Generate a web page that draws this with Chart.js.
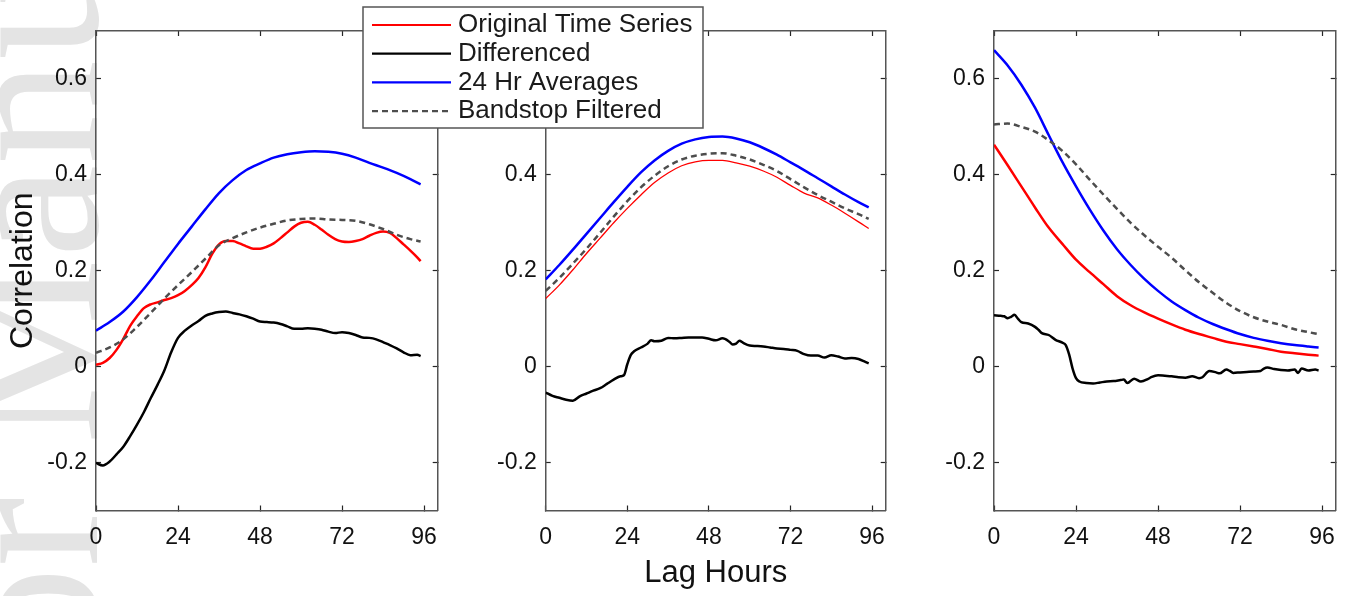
<!DOCTYPE html>
<html>
<head>
<meta charset="utf-8">
<script src="https://cdn.jsdelivr.net/npm/chart.js@4.4.1/dist/chart.umd.min.js"></script>
<style>
  html, body { margin: 0; padding: 0; background: #fff; }
  #quadro { position: relative; width: 1349px; height: 596px; overflow: hidden; }
  #quadro canvas { position: absolute; left: 0; top: 0; }
</style>
</head>
<body>
<div id="quadro">
  <canvas id="painel1" width="1349" height="596"></canvas>
  <canvas id="painel2" width="1349" height="596"></canvas>
  <canvas id="painel3" width="1349" height="596"></canvas>
</div>
<script>
// Dados (lag em horas, correlação)

const rotulos = ['Original Time Series', 'Differenced', '24 Hr Averages', 'Bandstop Filtered'];
const xTicks = [0, 24, 48, 72, 96];
const yTicks = [-0.2, 0, 0.2, 0.4, 0.6];

const lagSuave = [0, 4, 8, 12, 16, 20, 24, 28, 32, 36, 40, 44, 48, 52, 56, 60, 64, 68, 72, 76, 80, 84, 88, 92, 95];
const lag2 = [0, 2, 4, 6, 8, 10, 12, 14, 16, 18, 20, 22, 24, 26, 28, 30, 32, 34, 36, 38, 40, 42, 44, 46, 48,
              50, 52, 54, 56, 58, 60, 62, 64, 66, 68, 70, 72, 74, 76, 78, 80, 82, 84, 86, 88, 90, 92, 94, 95];

// Painel 1
const original1 = [0.004, 0.008, 0.018, 0.035, 0.058, 0.085, 0.105, 0.122, 0.13, 0.134, 0.139, 0.143, 0.149, 0.158,
                   0.17, 0.185, 0.207, 0.235, 0.255, 0.262, 0.262, 0.257, 0.251, 0.246, 0.246, 0.25, 0.257, 0.268,
                   0.28, 0.292, 0.3, 0.302, 0.296, 0.286, 0.275, 0.266, 0.261, 0.26, 0.262, 0.266, 0.273, 0.279,
                   0.282, 0.279, 0.268, 0.255, 0.242, 0.228, 0.22];
const diferenciado1 = [-0.201, -0.206, -0.198, -0.183, -0.167, -0.145, -0.121, -0.095, -0.066, -0.038, -0.008, 0.03,
                       0.06, 0.075, 0.086, 0.095, 0.106, 0.111, 0.114, 0.115, 0.112, 0.109, 0.105, 0.1, 0.094, 0.093,
                       0.092, 0.089, 0.084, 0.079, 0.079, 0.08, 0.079, 0.077, 0.073, 0.07, 0.072, 0.07, 0.066, 0.061,
                       0.06, 0.057, 0.051, 0.045, 0.038, 0.03, 0.024, 0.025, 0.022];
const media1 = [0.075, 0.093, 0.115, 0.145, 0.18, 0.218, 0.256, 0.292, 0.328, 0.362, 0.389, 0.41, 0.424, 0.436,
                0.443, 0.447, 0.449, 0.448, 0.444, 0.436, 0.425, 0.415, 0.404, 0.391, 0.38];
const filtrado1 = [0.029, 0.04, 0.057, 0.083, 0.112, 0.142, 0.17, 0.197, 0.225, 0.253, 0.268, 0.28, 0.29, 0.298,
                   0.305, 0.308, 0.309, 0.307, 0.306, 0.304, 0.297, 0.287, 0.275, 0.266, 0.261];

// Painel 2
const original2 = [0.142, 0.17, 0.202, 0.236, 0.268, 0.3, 0.33, 0.358, 0.384, 0.404, 0.419, 0.427, 0.43, 0.43,
                   0.425, 0.418, 0.408, 0.395, 0.378, 0.362, 0.352, 0.337, 0.32, 0.302, 0.288];
const lagDif2 = [0, 2, 4, 6, 8, 10, 12, 14, 16, 18, 20, 22, 23, 24, 25, 26, 28, 30, 31, 32, 34, 36, 38, 40, 42, 44,
                 46, 48, 50, 52, 54, 55, 56, 57, 58, 60, 62, 64, 66, 68, 70, 72, 74, 76, 78, 80, 82, 84, 86, 88, 90,
                 92, 94, 95];
const diferenciado2 = [-0.054, -0.061, -0.065, -0.069, -0.071, -0.062, -0.056, -0.05, -0.045, -0.036, -0.027, -0.02,
                       -0.018, 0.005, 0.024, 0.032, 0.04, 0.048, 0.055, 0.053, 0.054, 0.06, 0.059, 0.06, 0.061, 0.061,
                       0.061, 0.058, 0.055, 0.059, 0.052, 0.046, 0.048, 0.054, 0.05, 0.044, 0.043, 0.042, 0.04, 0.038,
                       0.037, 0.035, 0.033, 0.026, 0.023, 0.023, 0.019, 0.024, 0.021, 0.017, 0.018, 0.016, 0.01, 0.007];
const media2 = [0.182, 0.212, 0.244, 0.277, 0.31, 0.343, 0.375, 0.405, 0.43, 0.45, 0.465, 0.474, 0.479, 0.48,
                0.476, 0.468, 0.456, 0.442, 0.426, 0.41, 0.393, 0.376, 0.359, 0.343, 0.332];
const filtrado2 = [0.158, 0.185, 0.215, 0.246, 0.279, 0.313, 0.345, 0.374, 0.398, 0.418, 0.432, 0.44, 0.444, 0.445,
                   0.44, 0.432, 0.421, 0.408, 0.391, 0.374, 0.358, 0.344, 0.33, 0.318, 0.308];

// Painel 3
const original3 = [0.463, 0.42, 0.376, 0.332, 0.29, 0.256, 0.223, 0.197, 0.172, 0.147, 0.128, 0.113, 0.1, 0.088,
                   0.077, 0.068, 0.06, 0.052, 0.047, 0.042, 0.037, 0.031, 0.028, 0.025, 0.023];
const lagDif3 = [0, 2, 3, 4, 5, 6, 7, 8, 10, 12, 13, 14, 16, 18, 20, 21, 22, 23, 24, 25, 27, 29, 31, 33, 35, 37, 38,
                 39, 41, 43, 45, 46, 48, 50, 52, 54, 56, 58, 60, 61, 63, 65, 66, 68, 69, 70, 72, 74, 76, 78, 79, 80,
                 82, 84, 86, 88, 89, 90, 92, 94, 95];
const diferenciado3 = [0.107, 0.106, 0.105, 0.101, 0.104, 0.108, 0.1, 0.093, 0.09, 0.083, 0.077, 0.07, 0.066, 0.056,
                       0.05, 0.045, 0.025, -0.004, -0.024, -0.031, -0.034, -0.035, -0.033, -0.031, -0.03, -0.028,
                       -0.027, -0.034, -0.025, -0.031, -0.026, -0.022, -0.018, -0.019, -0.02, -0.022, -0.023, -0.02,
                       -0.024, -0.022, -0.009, -0.012, -0.014, -0.006, -0.009, -0.013, -0.012, -0.011, -0.01, -0.009,
                       -0.004, -0.002, -0.005, -0.007, -0.008, -0.006, -0.013, -0.004, -0.008, -0.006, -0.008];
const media3 = [0.66, 0.628, 0.588, 0.54, 0.483, 0.427, 0.376, 0.328, 0.284, 0.245, 0.212, 0.183, 0.158, 0.136,
                0.118, 0.102, 0.089, 0.078, 0.068, 0.06, 0.054, 0.049, 0.045, 0.042, 0.04];
const filtrado3 = [0.505, 0.507, 0.5, 0.49, 0.472, 0.45, 0.422, 0.39, 0.359, 0.329, 0.3, 0.274, 0.25, 0.227,
                   0.201, 0.176, 0.154, 0.133, 0.116, 0.103, 0.094, 0.087, 0.078, 0.072, 0.068];

Chart.defaults.font.family = '"Liberation Sans", Arial, sans-serif';
Chart.defaults.color = '#111';

function pontos(lags, valores) {
    return lags.map((x, i) => ({ x: x, y: valores[i] }));
}

function fixarTamanho(largura, altura) {
    return function(escala) {
        if (largura !== null) escala.width = largura;
        if (altura !== null) escala.height = altura;
        escala.paddingLeft = 0;
        escala.paddingRight = 0;
        escala.paddingTop = 0;
        escala.paddingBottom = 0;
    };
}

// Marca d'água ao fundo
const marcaDagua = {
    id: 'marcaDagua',
    beforeDraw(chart) {
        const ctx = chart.ctx;
        ctx.save();
        ctx.translate(97, 1092);
        ctx.rotate(-Math.PI / 2);
        ctx.font = '210px "Liberation Serif", serif';
        ctx.fillStyle = '#e4e4e4';
        ctx.textBaseline = 'alphabetic';
        ctx.fillText('Author Manuscript', 0, 0);
        ctx.restore();
    }
};

// Legenda com caixa, por cima dos painéis 1 e 2
const legendaCaixa = {
    id: 'legendaCaixa',
    afterDraw(chart) {
        const ctx = chart.ctx;
        ctx.save();
        ctx.fillStyle = '#fff';
        ctx.fillRect(363, 7, 340, 121);
        ctx.strokeStyle = '#555';
        ctx.lineWidth = 1.5;
        ctx.strokeRect(363, 7, 340, 121);
        chart.data.datasets.forEach((ds, i) => {
            const y = 25 + i * 28.7;
            ctx.beginPath();
            ctx.setLineDash(ds.borderDash || []);
            ctx.strokeStyle = ds.borderColor;
            ctx.lineWidth = 2.2;
            ctx.moveTo(372, y);
            ctx.lineTo(451, y);
            ctx.stroke();
            ctx.setLineDash([]);
            ctx.fillStyle = '#1a1a1a';
            ctx.font = '26px "Liberation Sans", Arial, sans-serif';
            ctx.textBaseline = 'middle';
            ctx.textAlign = 'left';
            ctx.fillText(ds.label, 458, y);
        });
        ctx.restore();
    }
};

function eixo(posicao, tipo, extra) {
    const ehX = tipo === 'x';
    const base = {
        type: 'linear',
        position: posicao,
        min: ehX ? 0 : -0.3,
        max: ehX ? 100 : 0.7,
        afterBuildTicks: s => { s.ticks = (ehX ? xTicks : yTicks).map(v => ({ value: v })); },
        border: { display: true, color: '#555', width: 1.5 },
        grid: { display: true, drawOnChartArea: false, drawTicks: true, tickLength: -5, tickColor: '#262626', tickWidth: 1.2 },
        ticks: { display: false }
    };
    return Object.assign(base, extra);
}

function criarPainel(id, series, esquerda, direita, comTituloY, comTituloX, plugins) {
    const largY = 92, altX = 85.5;
    const topo = 31, baixo = 510.5;
    return new Chart(document.getElementById(id), {
        type: 'line',
        data: {
            datasets: [
                { label: rotulos[0], data: pontos(series.lagOriginal, series.original), borderColor: '#ff0000',
                  borderWidth: series.larguraOriginal, order: 4 },
                { label: rotulos[1], data: pontos(series.lagDif, series.dif), borderColor: '#000000',
                  borderWidth: 2.5, order: 3 },
                { label: rotulos[2], data: pontos(lagSuave, series.media), borderColor: '#0000ff',
                  borderWidth: 2.5, order: 2 },
                { label: rotulos[3], data: pontos(lagSuave, series.filtrado), borderColor: '#4d4d4d',
                  borderWidth: 2.5, borderDash: [6, 4], order: 1 }
            ]
        },
        options: {
            responsive: false,
            animation: false,
            events: [],
            elements: {
                point: { radius: 0 },
                line: { cubicInterpolationMode: 'monotone', fill: false, borderCapStyle: 'butt', borderJoinStyle: 'round' }
            },
            layout: { padding: { left: esquerda - largY, right: 1349 - direita, top: topo, bottom: 596 - baixo - altX } },
            plugins: { legend: { display: false }, tooltip: { enabled: false } },
            scales: {
                x: eixo('bottom', 'x', {
                    afterFit: fixarTamanho(null, altX),
                    ticks: { display: true, padding: 18, font: { size: 23 }, color: '#111', callback: v => String(v) },
                    title: { display: comTituloX, text: 'Lag Hours', font: { size: 31 }, color: '#111', padding: { top: 0, bottom: 4 } }
                }),
                x2: eixo('top', 'x', { afterFit: fixarTamanho(null, 0) }),
                y: eixo('left', 'y', {
                    afterFit: fixarTamanho(largY, null),
                    ticks: { display: true, padding: 14, font: { size: 23 }, color: '#111',
                             callback: v => String(Math.round(v * 10) / 10) },
                    title: { display: comTituloY, text: 'Correlation', font: { size: 32 }, color: '#111', padding: { top: 0, bottom: 0 } }
                }),
                y2: eixo('right', 'y', { afterFit: fixarTamanho(0, null) })
            }
        },
        plugins: plugins
    });
}

criarPainel('painel1', {
    lagOriginal: lag2, original: original1, larguraOriginal: 2.5,
    lagDif: lag2, dif: diferenciado1, media: media1, filtrado: filtrado1
}, 96, 437.7, true, false, [marcaDagua]);

criarPainel('painel2', {
    lagOriginal: lagSuave, original: original2, larguraOriginal: 1.3,
    lagDif: lagDif2, dif: diferenciado2, media: media2, filtrado: filtrado2
}, 545.7, 885.7, false, true, []);

criarPainel('painel3', {
    lagOriginal: lagSuave, original: original3, larguraOriginal: 2.5,
    lagDif: lagDif3, dif: diferenciado3, media: media3, filtrado: filtrado3
}, 994, 1335.7, false, false, [legendaCaixa]);
</script>
</body>
</html>
